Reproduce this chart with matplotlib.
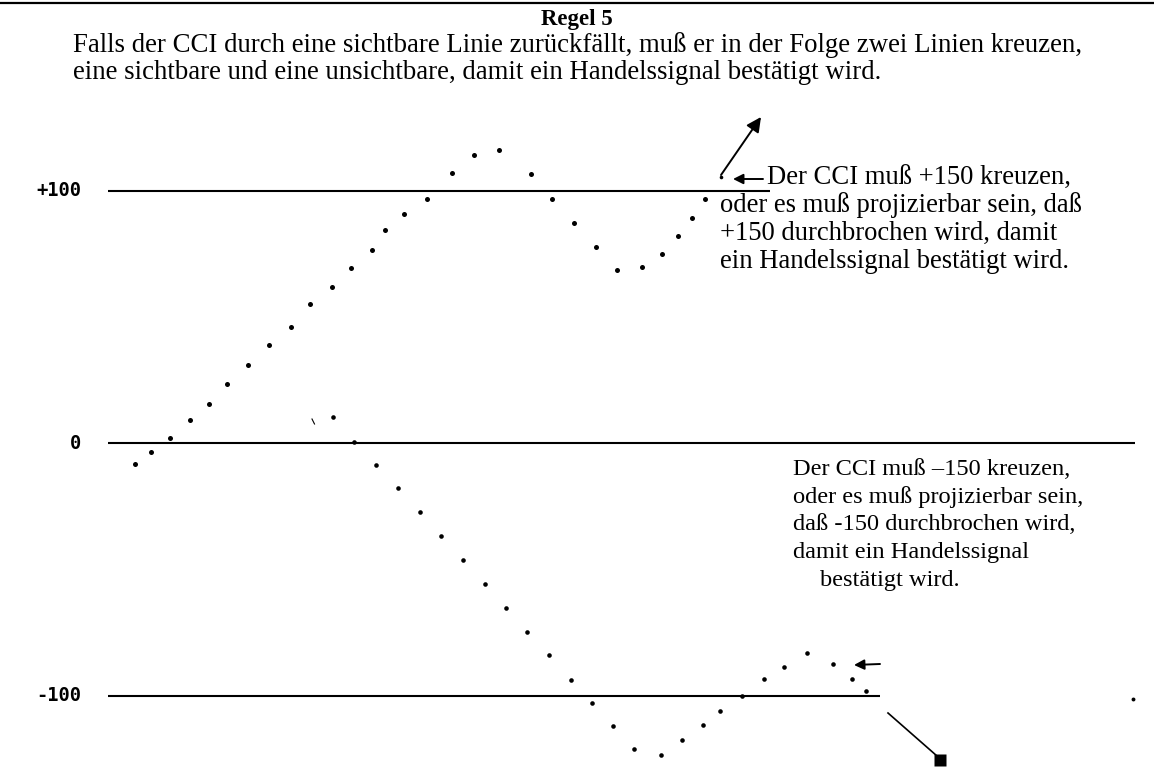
import matplotlib
matplotlib.use("Agg")
import matplotlib.pyplot as plt

# ---- data (x = time position, y = CCI value) ----
first_x = [135, 151, 170, 190, 209, 227, 248, 269, 291, 310, 332, 351, 372, 385, 404,
           427, 452, 474, 499, 531, 552, 574, 596, 617, 642, 662, 678, 692, 705, 721]
first_cci = [-8.3, -3.6, 2.0, 9.1, 15.5, 23.4, 31.0, 38.9, 46.0, 55.2, 61.9, 69.4, 76.6, 84.5, 90.5,
             96.8, 107.1, 113.9, 115.9, 106.7, 96.8, 87.3, 77.8, 68.7, 69.8, 75.0, 82.1, 89.3, 96.8, 105.2]

second_x = [333, 354, 376, 398, 420, 441, 463, 485, 506, 527, 549, 571, 592, 613, 634,
            661, 682, 703, 720, 742, 764, 784, 807, 833, 852, 866]
second_cci = [10.3, 0.4, -8.7, -17.9, -27.4, -36.9, -46.4, -56.0, -65.5, -75.0, -84.1, -93.7, -102.8,
              -111.9, -121.0, -123.4, -117.5, -111.5, -106.0, -100.0, -93.3, -88.9, -83.3, -87.7,
              -93.3, -98.4]

stray_x = [1133]
stray_cci = [-101.2]

levels = [100, 0, -100]
level_labels = ["+100", "0", "-100"]
level_xmax = [770, 1135, 880]

title = "Regel 5"
intro = ["Falls der CCI durch eine sichtbare Linie zurückfällt, muß er in der Folge zwei Linien kreuzen,",
         "eine sichtbare und eine unsichtbare, damit ein Handelssignal bestätigt wird."]
note_up = ["Der CCI muß +150 kreuzen,",
           "oder es muß projizierbar sein, daß",
           "+150 durchbrochen wird, damit",
           "ein Handelssignal bestätigt wird."]
note_down = ["Der CCI muß \u2013150 kreuzen,",
             "oder es muß projizierbar sein,",
             "daß -150 durchbrochen wird,",
             "damit ein Handelssignal",
             "bestätigt wird."]

# ---- layout helpers ----
W, H = 1154, 772
Y0, SCALE = 443, 2.525


def py(ypix):
    return (Y0 - ypix) / SCALE


fig = plt.figure(figsize=(W / 100, H / 100), dpi=100)
ax = fig.add_axes([0, 0, 1, 1])
ax.set_xlim(0, W)
ax.set_ylim(py(H), py(0))
ax.axis("off")

serif = ["Liberation Serif", "DejaVu Serif"]
mono = ["DejaVu Sans Mono"]

# top rule
ax.plot([0, W], [py(3), py(3)], color="black", lw=1.6, solid_capstyle="butt")

# level lines and labels
for lv, lab, xm in zip(levels, level_labels, level_xmax):
    ax.plot([108, xm], [lv, lv], color="black", lw=1.5, solid_capstyle="butt")
    ax.text(81, lv, lab, family=mono, weight="bold", fontsize=13.5,
            ha="right", va="center")

# CCI dots
ax.plot(first_x[:-1], first_cci[:-1], "o", color="black", ms=3.6, mec="none")
ax.plot(first_x[-1:], first_cci[-1:], "o", color="black", ms=2.6, mec="none")
ax.plot(second_x, second_cci, "o", color="black", ms=3.3, mec="none")
ax.plot(stray_x, stray_cci, "o", color="black", ms=2.8, mec="none")
ax.plot([312, 314.5], [py(419), py(424)], color="black", lw=0.8)

# title and intro
ax.text(577, py(25), title, family=serif, weight="bold", fontsize=16.5,
        ha="center", va="baseline")
for i, line in enumerate(intro):
    ax.text(73, py(52 + 27 * i), line, family=serif, fontsize=19.3,
            ha="left", va="baseline")

# upper note
for i, line in enumerate(note_up):
    x = 767 if i == 0 else 720
    ax.text(x, py(185 + 27.5 * i), line, family=serif, fontsize=19.2,
            ha="left", va="baseline")

# lower note
for i, line in enumerate(note_down):
    x = 820 if i == 4 else 793
    ax.text(x, py(475 + 27.7 * i), line, family=serif, fontsize=17.6,
            ha="left", va="baseline")

# arrows
ax.annotate("", xy=(761, py(117)), xytext=(721, py(175)),
            arrowprops=dict(arrowstyle="-|>", color="black", lw=1.4,
                            mutation_scale=22, shrinkA=0, shrinkB=0))
ax.annotate("", xy=(733, py(179)), xytext=(763, py(179)),
            arrowprops=dict(arrowstyle="-|>", color="black", lw=1.4,
                            mutation_scale=15, shrinkA=0, shrinkB=0))
ax.annotate("", xy=(854, py(665)), xytext=(880, py(664)),
            arrowprops=dict(arrowstyle="-|>", color="black", lw=1.4,
                            mutation_scale=15, shrinkA=0, shrinkB=0))
ax.plot([888, 937], [py(713), py(756)], color="black", lw=1.2)
ax.plot([940], [py(760)], "s", color="black", ms=8, mec="none")

fig.savefig("out.png", dpi=100)
